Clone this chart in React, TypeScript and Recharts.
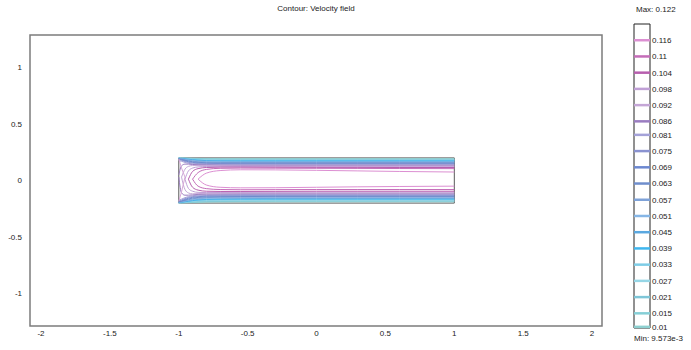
import { LineChart, Line, XAxis, YAxis, ReferenceArea, ReferenceLine } from "recharts";

const FONT = "'Liberation Sans', Arial, sans-serif";

const X_TICKS = [-2, -1.5, -1, -0.5, 0, 0.5, 1, 1.5, 2];
const Y_TICKS = [-1, -0.5, 0, 0.5, 1];

const MIN_VALUE = 0.009573;
const MAX_VALUE = 0.122;

// contour levels, top of the colour bar first
const LEVELS = [
  0.116, 0.11, 0.104, 0.098, 0.092, 0.086, 0.081, 0.075, 0.069, 0.063,
  0.057, 0.051, 0.045, 0.039, 0.033, 0.027, 0.021, 0.015, 0.01,
];
const LEVEL_COLORS = [
  "#dc8fd2", "#c46cb8", "#b75fae", "#c0a0d6", "#c4a6d6", "#9a7cc0", "#a4a2d8",
  "#8a92d0", "#6c88d0", "#6f8ecc", "#7ea2d8", "#86b6e6", "#5aa8e0", "#3fb6ee",
  "#7ecce6", "#96d6e6", "#7ec6d8", "#86cfd6", "#8ed0d0",
];

const GRID_X = [-1, -0.98, -0.955, -0.93, -0.9, -0.86, -0.8, -0.7, -0.55, -0.3, 0, 0.3, 0.6, 1];

// y of the upper branch of each level at GRID_X (null = level not present)
const TOP_Y = [
  [null, null, null, null, null, 0.012, 0.065, 0.088, 0.095, 0.094, 0.09, 0.085, 0.08, 0.075],
  [null, null, null, null, 0.012, 0.07, 0.098, 0.108, 0.11, 0.109, 0.108, 0.107, 0.106, 0.105],
  [null, null, null, 0.012, 0.08, 0.105, 0.115, 0.118, 0.118, 0.117, 0.116, 0.116, 0.115, 0.115],
  [null, null, 0.012, 0.085, 0.11, 0.12, 0.124, 0.125, 0.124, 0.123, 0.122, 0.122, 0.122, 0.122],
  [null, 0.03, 0.1, 0.125, 0.132, 0.132, 0.131, 0.13, 0.129, 0.128, 0.128, 0.128, 0.128, 0.128],
  [0.05, 0.13, 0.145, 0.145, 0.142, 0.139, 0.137, 0.135, 0.134, 0.134, 0.134, 0.134, 0.134, 0.134],
  [0.175, 0.17, 0.16, 0.152, 0.147, 0.144, 0.142, 0.14, 0.139, 0.139, 0.139, 0.139, 0.139, 0.139],
  [0.185, 0.178, 0.168, 0.16, 0.154, 0.15, 0.147, 0.145, 0.144, 0.144, 0.144, 0.144, 0.144, 0.144],
  [0.19, 0.183, 0.174, 0.166, 0.16, 0.156, 0.152, 0.15, 0.149, 0.149, 0.149, 0.149, 0.149, 0.149],
  [0.192, 0.186, 0.179, 0.172, 0.166, 0.161, 0.157, 0.155, 0.154, 0.154, 0.154, 0.154, 0.154, 0.154],
  [0.194, 0.189, 0.183, 0.177, 0.171, 0.166, 0.162, 0.16, 0.159, 0.159, 0.159, 0.159, 0.159, 0.159],
  [0.195, 0.191, 0.186, 0.181, 0.176, 0.171, 0.167, 0.165, 0.164, 0.164, 0.164, 0.164, 0.164, 0.164],
  [0.196, 0.193, 0.189, 0.185, 0.18, 0.176, 0.172, 0.17, 0.169, 0.169, 0.169, 0.169, 0.169, 0.169],
  [0.197, 0.194, 0.191, 0.188, 0.184, 0.18, 0.176, 0.174, 0.173, 0.173, 0.173, 0.173, 0.173, 0.173],
  [0.197, 0.195, 0.193, 0.19, 0.187, 0.184, 0.18, 0.178, 0.177, 0.177, 0.177, 0.177, 0.177, 0.177],
  [0.198, 0.196, 0.194, 0.192, 0.19, 0.187, 0.184, 0.182, 0.181, 0.181, 0.181, 0.181, 0.181, 0.181],
  [0.198, 0.197, 0.196, 0.194, 0.192, 0.19, 0.188, 0.186, 0.185, 0.185, 0.185, 0.185, 0.185, 0.185],
  [0.199, 0.198, 0.197, 0.196, 0.195, 0.193, 0.191, 0.19, 0.189, 0.189, 0.189, 0.189, 0.189, 0.189],
  [0.199, 0.199, 0.198, 0.197, 0.196, 0.195, 0.194, 0.193, 0.193, 0.193, 0.193, 0.193, 0.193, 0.193],
];

// y of the lower branch of each level at GRID_X
const BOTTOM_Y = [
  [null, null, null, null, null, 0.012, -0.04, -0.06, -0.065, -0.064, -0.06, -0.056, -0.053, -0.05],
  [null, null, null, null, 0.012, -0.05, -0.072, -0.08, -0.082, -0.081, -0.08, -0.08, -0.08, -0.08],
  [null, null, null, 0.012, -0.06, -0.085, -0.095, -0.097, -0.097, -0.096, -0.095, -0.095, -0.095, -0.095],
  [null, null, 0.012, -0.07, -0.095, -0.105, -0.107, -0.106, -0.105, -0.104, -0.103, -0.103, -0.103, -0.103],
  [null, 0.03, -0.08, -0.11, -0.118, -0.116, -0.114, -0.112, -0.111, -0.11, -0.11, -0.11, -0.11, -0.11],
  [0.03, -0.11, -0.13, -0.13, -0.127, -0.123, -0.12, -0.118, -0.117, -0.117, -0.117, -0.117, -0.117, -0.117],
  [-0.172, -0.165, -0.152, -0.142, -0.135, -0.13, -0.127, -0.125, -0.124, -0.123, -0.123, -0.123, -0.123, -0.123],
  [-0.18, -0.173, -0.16, -0.15, -0.142, -0.137, -0.133, -0.131, -0.13, -0.129, -0.129, -0.129, -0.129, -0.129],
  [-0.186, -0.179, -0.168, -0.157, -0.149, -0.143, -0.139, -0.137, -0.136, -0.135, -0.135, -0.135, -0.135, -0.135],
  [-0.189, -0.183, -0.174, -0.164, -0.156, -0.15, -0.145, -0.143, -0.142, -0.141, -0.141, -0.141, -0.141, -0.141],
  [-0.191, -0.186, -0.178, -0.17, -0.162, -0.156, -0.151, -0.149, -0.148, -0.147, -0.147, -0.147, -0.147, -0.147],
  [-0.193, -0.188, -0.182, -0.175, -0.168, -0.162, -0.157, -0.155, -0.154, -0.153, -0.153, -0.153, -0.153, -0.153],
  [-0.194, -0.19, -0.185, -0.179, -0.173, -0.167, -0.163, -0.161, -0.16, -0.159, -0.159, -0.159, -0.159, -0.159],
  [-0.195, -0.192, -0.188, -0.183, -0.178, -0.172, -0.168, -0.166, -0.165, -0.164, -0.164, -0.164, -0.164, -0.164],
  [-0.196, -0.193, -0.19, -0.186, -0.182, -0.177, -0.173, -0.171, -0.17, -0.169, -0.169, -0.169, -0.169, -0.169],
  [-0.197, -0.195, -0.192, -0.189, -0.186, -0.181, -0.178, -0.176, -0.175, -0.174, -0.174, -0.174, -0.174, -0.174],
  [-0.198, -0.196, -0.194, -0.192, -0.189, -0.186, -0.183, -0.181, -0.18, -0.179, -0.179, -0.179, -0.179, -0.179],
  [-0.198, -0.197, -0.196, -0.194, -0.192, -0.19, -0.187, -0.186, -0.185, -0.184, -0.184, -0.184, -0.184, -0.184],
  [-0.199, -0.198, -0.197, -0.196, -0.195, -0.193, -0.191, -0.19, -0.189, -0.189, -0.189, -0.189, -0.189, -0.189],
];

// the small ">" wedge at the inlet
const WEDGE_TOP = [0.19, 0.11, 0.03, null, null, null, null, null, null, null, null, null, null, null];
const WEDGE_BOTTOM = [-0.185, -0.1, 0.03, null, null, null, null, null, null, null, null, null, null, null];

const contourRows = GRID_X.map((x, j) => {
  const row: Record<string, number | null> = { x, wt: WEDGE_TOP[j], wb: WEDGE_BOTTOM[j] };
  LEVELS.forEach((_, i) => {
    row[`t${i}`] = TOP_Y[i][j];
    row[`b${i}`] = BOTTOM_Y[i][j];
  });
  return row;
});

const legendRows = LEVELS.map((v) => ({ v }));

const tickStyle = { fontSize: 8, fill: "#222", fontFamily: FONT };

// draw low levels first so the pink ones sit on top
const drawOrder = LEVELS.map((_, i) => LEVELS.length - 1 - i);

export default function App() {
  return (
    <div
      style={{
        position: "absolute",
        left: 0,
        top: 0,
        width: 691,
        height: 350,
        overflow: "hidden",
        background: "#fff",
        fontFamily: FONT,
      }}
    >
      <div
        style={{
          position: "absolute",
          left: 216,
          top: 4,
          width: 200,
          textAlign: "center",
          fontSize: 8,
          color: "#222",
        }}
      >
        Contour: Velocity field
      </div>

      <div style={{ position: "absolute", left: 0, top: 0 }}>
        <LineChart
          width={610}
          height={350}
          data={contourRows}
          margin={{ top: 35, right: 8, bottom: 0, left: 0 }}
        >
          <XAxis
            dataKey="x"
            type="number"
            domain={[-2.08, 2.072]}
            ticks={X_TICKS}
            allowDataOverflow
            axisLine={false}
            tickLine={false}
            tickSize={0}
            tickMargin={4}
            height={24}
            tick={tickStyle}
          />
          <YAxis
            type="number"
            domain={[-1.288, 1.288]}
            ticks={Y_TICKS}
            allowDataOverflow
            axisLine={false}
            tickLine={false}
            tickSize={0}
            tickMargin={8}
            width={30}
            tick={tickStyle}
          />
          <ReferenceArea
            x1={-2.08}
            x2={2.072}
            y1={-1.288}
            y2={1.288}
            stroke="#7c7c7c"
            strokeWidth={1.5}
            fill="none"
            ifOverflow="visible"
          />
          {drawOrder.map((i) => (
            <Line
              key={`t${i}`}
              dataKey={`t${i}`}
              type="monotone"
              stroke={LEVEL_COLORS[i]}
              strokeWidth={1}
              dot={false}
              activeDot={false}
              isAnimationActive={false}
            />
          ))}
          {drawOrder.map((i) => (
            <Line
              key={`b${i}`}
              dataKey={`b${i}`}
              type="monotone"
              stroke={LEVEL_COLORS[i]}
              strokeWidth={1}
              dot={false}
              activeDot={false}
              isAnimationActive={false}
            />
          ))}
          <Line dataKey="wt" type="linear" stroke="#d8a8d8" strokeWidth={1} dot={false} activeDot={false} isAnimationActive={false} />
          <Line dataKey="wb" type="linear" stroke="#d8a8d8" strokeWidth={1} dot={false} activeDot={false} isAnimationActive={false} />
          <ReferenceArea
            x1={-1}
            x2={1}
            y1={-0.2}
            y2={0.2}
            stroke="#5a5a5a"
            strokeWidth={1}
            fill="none"
          />
        </LineChart>
      </div>

      <div style={{ position: "absolute", left: 636, top: 5, fontSize: 8, color: "#222", whiteSpace: "nowrap" }}>
        Max: 0.122
      </div>
      <div style={{ position: "absolute", left: 634, top: 334, fontSize: 8, color: "#222", whiteSpace: "nowrap" }}>
        Min: 9.573e-3
      </div>

      <div style={{ position: "absolute", left: 616, top: 0 }}>
        <LineChart
          width={75}
          height={350}
          data={legendRows}
          margin={{ top: 24, right: 0, bottom: 22, left: 18 }}
        >
          <XAxis dataKey="v" hide />
          <YAxis
            orientation="right"
            type="number"
            domain={[MIN_VALUE, MAX_VALUE]}
            ticks={LEVELS}
            interval={0}
            allowDataOverflow
            axisLine={false}
            tickLine={false}
            tickSize={0}
            tickMargin={2}
            width={41}
            tick={{ ...tickStyle, textAnchor: "start" }}
          />
          <ReferenceArea
            y1={MIN_VALUE}
            y2={MAX_VALUE}
            stroke="#222"
            strokeWidth={1}
            fill="none"
            ifOverflow="visible"
          />
          {LEVELS.map((lv, i) => (
            <ReferenceLine key={lv} y={lv} stroke={LEVEL_COLORS[i]} strokeWidth={2.5} />
          ))}
        </LineChart>
      </div>
    </div>
  );
}
